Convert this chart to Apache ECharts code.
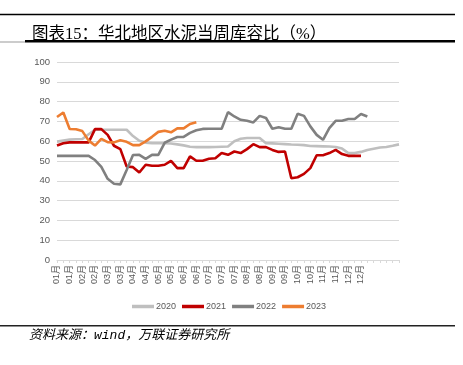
<!DOCTYPE html>
<html>
<head>
<meta charset="utf-8">
<script src="https://cdn.jsdelivr.net/npm/echarts@6/dist/echarts.min.js"></script>
<style>
  html, body { margin: 0; padding: 0; background: #ffffff; }
  #chart { width: 463px; height: 365px; }
</style>
</head>
<body>
<div id="chart"></div>
<script>
// tick labels shown every 2 weeks
const tickLabels = ['01月', '01月', '02月', '02月', '03月', '03月', '04月', '04月', '05月', '05月', '06月', '06月',
  '07月', '07月', '07月', '08月', '08月', '09月', '09月', '10月', '10月', '11月', '11月', '12月', '12月'];

const seriesNames = ['2020', '2021', '2022', '2023'];

const data2020 = [59.8, 60.3, 60.8, 61.0, 61.1, 63.5, 65.8, 65.8, 65.8, 65.8, 65.8, 65.8, 62.6, 60.2, 59.3,
  59.0, 59.0, 59.0, 58.8, 58.4, 57.9, 57.2, 57.0, 57.0, 57.0, 57.1, 57.2, 57.3, 60.0, 61.2,
  61.6, 61.6, 61.6, 59.0, 58.9, 58.7, 58.5, 58.3, 58.2, 58.0, 57.6, 57.5, 57.4, 57.3, 57.1,
  56.3, 54.0, 54.0, 54.6, 55.6, 56.2, 56.8, 57.1, 57.7, 58.4];

const data2021 = [57.8, 59.0, 59.4, 59.4, 59.4, 59.4, 66.1, 66.1, 63.2, 57.7, 56.0, 47.2, 46.9, 44.2, 48.1,
  47.6, 47.6, 48.1, 50.1, 46.4, 46.4, 52.3, 50.1, 50.1, 51.1, 51.4, 54.0, 53.1, 54.8, 54.0,
  56.0, 58.5, 57.0, 57.0, 55.6, 54.6, 54.8, 41.3, 41.8, 43.5, 46.4, 52.9, 52.9, 54.0, 55.6,
  53.5, 52.6, 52.6, 52.6];

const data2022 = [52.6, 52.6, 52.6, 52.6, 52.6, 52.6, 50.5, 47.0, 41.0, 38.5, 38.2, 45.5, 53.0, 53.1, 51.1,
  53.1, 53.1, 59.2, 60.8, 62.1, 62.2, 64.2, 65.5, 66.2, 66.3, 66.3, 66.3, 74.7, 72.5, 70.8,
  70.3, 69.5, 72.8, 71.7, 66.3, 67.1, 66.3, 66.3, 73.9, 72.8, 67.5, 63.2, 60.7, 66.6, 70.3,
  70.3, 71.2, 71.2, 73.7, 72.5];

const data2023 = [72.2, 74.5, 66.2, 66.0, 65.1, 60.3, 57.8, 61.2, 59.5, 59.4, 60.5, 59.7, 58.0, 58.0, 59.9,
  62.2, 64.7, 65.3, 64.5, 66.5, 66.5, 68.7, 69.6];

const colors = ['#BFBFBF', '#C00000', '#808080', '#ED7D31'];

// one category per week, a label on every second one
const categories = [];
tickLabels.forEach(m => { categories.push(m, m); });
categories.length = 49;
while (categories.length < data2020.length) categories.push('');

const chart = echarts.init(document.getElementById('chart'), null, { renderer: 'canvas' });

const allData = [data2020, data2021, data2022, data2023];

const option = {
  animation: false,
  backgroundColor: '#ffffff',
  title: {
    text: '图表15：华北地区水泥当周库容比（%）',
    left: 27,
    top: 21,
    textStyle: {
      fontFamily: '"Liberation Serif", "Noto Sans CJK SC"',
      fontSize: 16.5,
      fontWeight: 'normal',
      color: '#000000'
    }
  },
  graphic: [
    { type: 'line', shape: { x1: 0, y1: 14.5, x2: 455, y2: 14.5 }, style: { stroke: '#000', lineWidth: 1.3 } },
    { type: 'line', shape: { x1: 0, y1: 42, x2: 25, y2: 42 }, style: { stroke: '#999', lineWidth: 1 } },
    { type: 'line', shape: { x1: 25, y1: 41.3, x2: 455, y2: 41.3 }, style: { stroke: '#000', lineWidth: 2.6 } },
    { type: 'line', shape: { x1: 0, y1: 325.8, x2: 455, y2: 325.8 }, style: { stroke: '#222', lineWidth: 1.4 } },
    {
      type: 'text', left: 29, top: 329,
      style: {
        text: '资料来源：wind，万联证券研究所',
        font: 'italic 13px "Liberation Mono", "Noto Sans CJK SC"',
        fill: '#000'
      }
    }
  ],
  legend: {
    data: seriesNames,
    left: 127,
    top: 297,
    icon: 'rect',
    itemWidth: 22,
    itemHeight: 3.5,
    itemGap: 6,
    textStyle: { fontSize: 9, color: '#595959', padding: [0, 0, 0, -3], fontFamily: 'Liberation Sans' }
  },
  grid: {
    left: 57,
    right: 64,
    top: 62,
    bottom: 105,
    containLabel: false
  },
  xAxis: {
    type: 'category',
    data: categories,
    boundaryGap: false,
    axisLine: { lineStyle: { color: '#D9D9D9', width: 1 } },
    axisTick: { show: true, interval: 0, length: 3, lineStyle: { color: '#D9D9D9' } },
    axisLabel: {
      interval: 1,
      rotate: 90,
      margin: 5,
      fontSize: 9,
      color: '#595959',
      fontFamily: '"Liberation Sans", "Noto Sans CJK SC"'
    },
    splitLine: { show: false }
  },
  yAxis: {
    type: 'value',
    min: 0,
    max: 100,
    interval: 10,
    axisLine: { show: false },
    axisTick: { show: false },
    axisLabel: { fontSize: 9.5, color: '#595959', margin: 7, fontFamily: 'Liberation Sans' },
    splitLine: { lineStyle: { color: '#D9D9D9', width: 1 } }
  },
  series: seriesNames.map((name, i) => ({
    name: name,
    type: 'line',
    data: allData[i],
    symbol: 'none',
    showSymbol: false,
    lineStyle: { width: 2.6, color: colors[i] },
    itemStyle: { color: colors[i] },
    z: 2 + i
  }))
};

chart.setOption(option);
</script>
</body>
</html>
